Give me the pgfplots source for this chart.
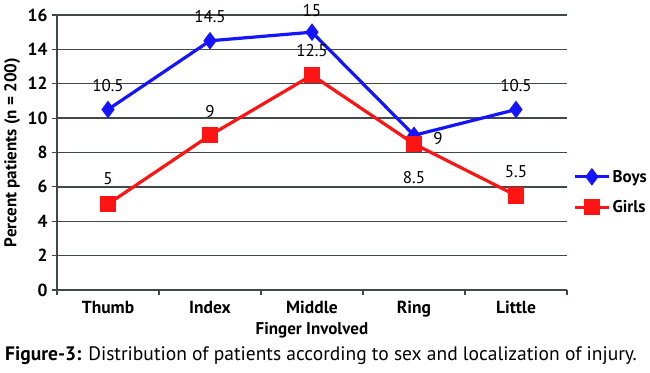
\documentclass[border=0pt]{standalone}
\usepackage{pgfplots}
\pgfplotsset{compat=1.18}
\usepackage{fontspec}
\setmainfont{PT Sans}
\definecolor{gridc}{RGB}{65,72,72}
\definecolor{boysc}{RGB}{20,20,255}
\definecolor{girlsc}{RGB}{255,20,20}
\pgfplotstableread{
x y xs ys
0 10.5 0 24
1 14.5 0 24
2 15 0 22
3 9 24 -3
4 10.5 0 24
}\boys
\pgfplotstableread{
x y xs ys
0 5 0 25
1 9 0 24
2 12.5 0 25
3 8.5 0 -34
4 5.5 0 24
}\girls
\begin{document}
\begin{tikzpicture}
\begin{axis}[
  at={(0,0)}, anchor=south west,
  scale only axis, width=510pt, height=275pt,
  xmin=-0.5, xmax=4.5, ymin=0, ymax=16,
  ytick={0,2,...,16},
  xtick={-0.5,0.5,...,4.5}, xticklabels={},
  extra x ticks={0,1,2,3,4},
  extra x tick labels={Thumb,Index,Middle,Ring,Little},
  extra x tick style={major tick length=0pt},
  axis x line*=bottom, axis y line*=left,
  axis line style={draw=gridc, line width=1.5pt, -},
  tick style={draw=gridc, line width=1.2pt},
  tick align=outside, major tick length=5pt,
  ymajorgrids, grid style={draw=gridc, line width=1.5pt},
  tick label style={font=\fontsize{17.5}{19}\selectfont\bfseries},
  /pgf/number format/assume math mode=true,
  xticklabel style={yshift=-8pt},
  yticklabel style={xshift=-1pt},
  xlabel={Finger Involved},
  xlabel style={font=\fontsize{17}{19}\selectfont\bfseries, at={(axis description cs:0.5,-0.148)}, anchor=center},
  ylabel={Percent patients (n = 200)},
  ylabel style={font=\fontsize{17}{19}\selectfont\bfseries, at={(axis description cs:-0.088,0.5)}, anchor=center},
  legend style={at={(rel axis cs:1.012,0.356)}, anchor=west, draw=none, fill=none,
    font=\fontsize{17}{19}\selectfont\bfseries, row sep=13pt, inner sep=0pt},
  legend cell align=left,
  legend image code/.code={\draw[mark repeat=2,mark phase=2] plot coordinates {(0pt,0pt) (17pt,0pt) (34pt,0pt)};},
  clip=false,
]
\addplot[color=boysc, line width=3.2pt, mark=diamond*, mark size=6.2pt, mark options={solid},
  nodes near coords, point meta=explicit symbolic,
  visualization depends on={\thisrow{xs}\as\xs},
  visualization depends on={\thisrow{ys}\as\ys},
  every node near coord/.append style={font=\fontsize{17}{19}\selectfont, anchor=center, xshift=\xs, yshift=\ys, text=black}]
  table[x=x, y=y, meta=y] {\boys};
\addlegendentry{Boys}
\addplot[color=girlsc, line width=3.2pt, mark=square*, mark size=6.5pt,
  nodes near coords, point meta=explicit symbolic,
  visualization depends on={\thisrow{xs}\as\xs},
  visualization depends on={\thisrow{ys}\as\ys},
  every node near coord/.append style={font=\fontsize{17}{19}\selectfont, anchor=center, xshift=\xs, yshift=\ys, text=black}]
  table[x=x, y=y, meta=y] {\girls};
\addlegendentry{Girls}
\end{axis}
\node[anchor=west, inner sep=0pt, font=\fontsize{19.5}{21}\selectfont] at (-52pt,-66pt) {\textbf{Figure-3:} Distribution of patients according to sex and localization of injury.};
\pgfresetboundingbox
\useasboundingbox (-57pt,-82pt) rectangle (593pt,290pt);
\end{tikzpicture}
\end{document}
